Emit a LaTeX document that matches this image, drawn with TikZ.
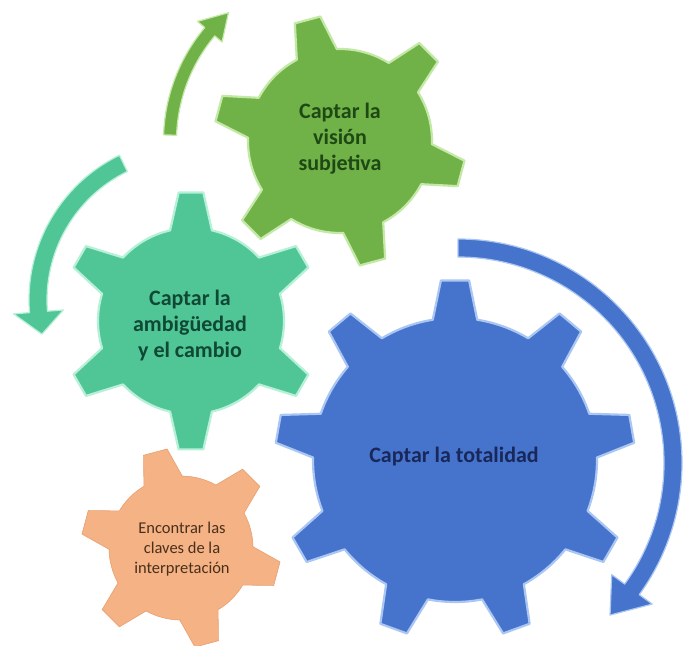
\documentclass[tikz,border=0pt]{standalone}
\usepackage{fontspec}
\setmainfont{Carlito}
\usetikzlibrary{calc}
\definecolor{grn}{RGB}{112,178,72}
\definecolor{grnL}{RGB}{196,232,166}
\definecolor{grnT}{RGB}{30,72,20}
\definecolor{tea}{RGB}{80,198,150}
\definecolor{teaL}{RGB}{182,240,216}
\definecolor{teaT}{RGB}{15,72,52}
\definecolor{blu}{RGB}{70,116,204}
\definecolor{bluL}{RGB}{170,198,242}
\definecolor{bluT}{RGB}{25,40,90}
\definecolor{org}{RGB}{245,178,132}
\definecolor{orgE}{RGB}{232,160,112}
\definecolor{orgT}{RGB}{72,48,28}
% gear: cx, cy (image coords), teeth, body radius, tip radius, phase, base half-angle, tip half-angle, style
\newcommand\gear[9]{%
  \pgfmathtruncatemacro\gnm{#3-1}%
  \pgfmathsetmacro\gstep{360/#3}%
  \begin{scope}[shift={(#1,645-#2)}]
    \path[#9] ({#6-#7}:#4)
      \foreach \k [evaluate=\k as \c using #6+\k*\gstep] in {0,...,\gnm} {
        -- ({\c-#8}:#5) -- ({\c+#8}:#5) -- ({\c+#7}:#4)
        arc[start angle={\c+#7}, end angle={\c+\gstep-#7}, radius=#4]
      } -- cycle;
  \end{scope}}
% circular arrow: cx, cy (image coords), radius, width, tail angle, head-base angle, tip angle, head half-width, style
\newcommand\carrow[9]{%
  \begin{scope}[shift={(#1,645-#2)}]
    \path[#9] ({#5}:{#3+#4/2}) arc[start angle={#5}, end angle={#6}, radius={#3+#4/2}]
      -- ({#6}:{#3+#8}) -- ({#7}:{#3}) -- ({#6}:{#3-#8}) -- ({#6}:{#3-#4/2})
      arc[start angle={#6}, end angle={#5}, radius={#3-#4/2}] -- cycle;
  \end{scope}}
\tikzset{
  gearG/.style={fill=grn, draw=grnL, line width=2.2pt, line join=round},
  gearT/.style={fill=tea, draw=teaL, line width=2.2pt, line join=round},
  gearB/.style={fill=blu, draw=bluL, line width=2.2pt, line join=round},
  gearO/.style={fill=org, draw=orgE, line width=0.6pt, line join=round},
  arrG/.style={fill=grn, draw=grnL, line width=1.2pt, line join=round},
  arrT/.style={fill=tea, draw=teaL, line width=1.2pt, line join=round},
  arrB/.style={fill=blu, draw=bluL, line width=1.2pt, line join=round},
  lbl/.style={align=center, inner sep=0pt, font=\bfseries\fontsize{22}{26}\selectfont},
  lbls/.style={align=center, inner sep=0pt, font=\fontsize{16.5}{20}\selectfont},
}
\begin{document}
\begin{tikzpicture}[x=1pt,y=1pt]
\useasboundingbox (0,0) rectangle (685,645);
\fill[white] (0,0) rectangle (685,645);
% arrows
\carrow{340}{141}{170}{13}{178}{140}{131}{16}{arrG}
\carrow{190}{300}{152}{18}{116}{184.5}{193}{25}{arrT}
\carrow{458}{463}{215}{18}{90}{-36}{-45}{25}{arrB}
% gears
\gear{181}{548}{6}{72}{100}{105}{16}{7}{gearO}
\gear{340}{141}{6}{92}{126}{45}{13}{6}{gearG}
\gear{191}{321}{6}{93}{129}{90}{13}{5.5}{gearT}
\gear{455}{460}{9}{142}{180}{90}{9}{4.5}{gearB}
% labels
\node[lbl, text=grnT] (tgreen) at (340,645-139) {Captar la\\visión\\subjetiva};
\node[lbl, text=teaT] (tteal) at (190,645-326) {Captar la\\ambigüedad\\y el cambio};
\node[lbl, text=bluT] (tblue) at (454,645-457) {Captar la totalidad};
\node[lbls, text=orgT] (torange) at (182,645-549) {Encontrar las\\claves de la\\interpretación};
\end{tikzpicture}
\end{document}
